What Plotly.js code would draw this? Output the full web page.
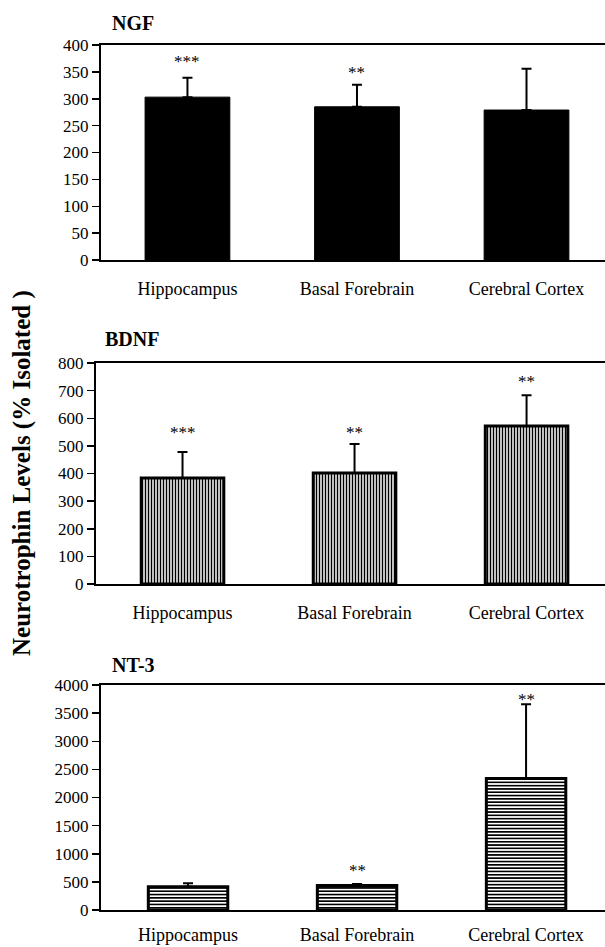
<!DOCTYPE html>
<html>
<head>
<meta charset="utf-8">
<script src="https://cdn.plot.ly/plotly-3.0.1.min.js"></script>
<style>html,body{margin:0;padding:0;background:#fff;}#chart{width:605px;height:947px;}</style>
</head>
<body>
<div id="chart"></div>
<script>
// ---- data ----
var regions = ["Hippocampus", "Basal Forebrain", "Cerebral Cortex"];

var ngfValues = [303, 285, 279];
var ngfErrors = [36, 41, 77];
var ngfStars = ["***", "**", ""];
var ngfStarY = [369, 349, null];

var bdnfValues = [384, 402, 572];
var bdnfErrors = [94, 105, 111];
var bdnfStars = ["***", "**", "**"];
var bdnfStarY = [550, 550, 732];

var nt3Values = [415, 434, 2336];
var nt3Errors = [60, 30, 1320];
var nt3Stars = ["", "**", "**"];
var nt3StarY = [null, 711, 3751];

var panelTitles = ["NGF", "BDNF", "NT-3"];
var yTitle = "Neurotrophin Levels (% Isolated )";

var W = 605, H = 947;
var serif = "'Liberation Serif', 'Times New Roman', Times, serif";

function errObj(arr) {
  return {type: "data", symmetric: false, array: arr, arrayminus: arr.map(function(){return 0;}),
          color: "black", thickness: 2, width: 5};
}

var traces = [
  {type: "bar", x: regions, y: ngfValues, xaxis: "x", yaxis: "y", width: 0.5,
   marker: {color: "black", line: {color: "black", width: 1}},
   error_y: errObj(ngfErrors), hoverinfo: "none"},
  {type: "bar", x: regions, y: bdnfValues, xaxis: "x2", yaxis: "y2", width: 0.48,
   marker: {color: "white", line: {color: "black", width: 3},
            pattern: {shape: "|", size: 3, solidity: 0.5, fgcolor: "black", bgcolor: "white"}},
   error_y: errObj(bdnfErrors), hoverinfo: "none"},
  {type: "bar", x: regions, y: nt3Values, xaxis: "x3", yaxis: "y3", width: 0.47,
   marker: {color: "white", line: {color: "black", width: 3},
            pattern: {shape: "-", size: 3.3, solidity: 0.5, fgcolor: "black", bgcolor: "white"}},
   error_y: errObj(nt3Errors), hoverinfo: "none"}
];

function xax(left, range, standoff) {
  return {domain: [left / W, 1], range: range, type: "category",
          showline: true, mirror: true, linecolor: "black", linewidth: 2,
          ticks: "", showgrid: false, zeroline: false, fixedrange: true,
          ticklabelstandoff: standoff,
          tickfont: {family: serif, size: 18, color: "black"}};
}
function yax(top, bottom, range, dtick, anchor) {
  return {domain: [1 - bottom / H, 1 - top / H], range: range, dtick: dtick, tick0: 0,
          showline: true, linecolor: "black", linewidth: 2,
          ticks: "outside", ticklen: 7, tickwidth: 1.5, tickcolor: "black",
          showgrid: false, zeroline: false, fixedrange: true, anchor: anchor,
          tickfont: {family: serif, size: 17, color: "black"}};
}

var annotations = [];
function addStars(stars, ys, xr, yr) {
  for (var i = 0; i < stars.length; i++) {
    if (!stars[i]) continue;
    annotations.push({xref: xr, yref: yr, x: regions[i], y: ys[i], text: stars[i],
      showarrow: false, xanchor: "center", yanchor: "middle",
      font: {family: serif, size: 17, color: "black"}});
  }
}
addStars(ngfStars, ngfStarY, "x", "y");
addStars(bdnfStars, bdnfStarY, "x2", "y2");
addStars(nt3Stars, nt3StarY, "x3", "y3");

var titlePos = [[110, 23], [103, 339], [110, 665]];
for (var k = 0; k < panelTitles.length; k++) {
  annotations.push({xref: "paper", yref: "paper", x: titlePos[k][0] / W, y: 1 - titlePos[k][1] / H,
    xanchor: "left", yanchor: "middle", showarrow: false,
    text: "<b>" + panelTitles[k] + "</b>", font: {family: serif, size: 20, color: "black"}});
}
annotations.push({xref: "paper", yref: "paper", x: 22 / W, y: 1 - 473 / H,
  xanchor: "center", yanchor: "middle", showarrow: false, textangle: -90,
  text: "<b>" + yTitle + "</b>", font: {family: serif, size: 25, color: "black"}});

var layout = {
  width: W, height: H, margin: {l: 0, r: 0, t: 0, b: 0},
  paper_bgcolor: "white", plot_bgcolor: "white", showlegend: false,
  xaxis: xax(101, [-0.51, 2.463], 11),
  yaxis: yax(45, 260, [0, 400], 50, "x"),
  xaxis2: xax(96, [-0.503, 2.456], 11),
  yaxis2: yax(363, 584, [0, 800], 100, "x2"),
  xaxis3: xax(101, [-0.515, 2.467], 7),
  yaxis3: yax(685, 910, [0, 4000], 500, "x3"),
  annotations: annotations
};
layout.xaxis.anchor = "y";
layout.xaxis2.anchor = "y2";
layout.xaxis3.anchor = "y3";

Plotly.newPlot("chart", traces, layout, {displayModeBar: false, staticPlot: true});
</script>
</body>
</html>
